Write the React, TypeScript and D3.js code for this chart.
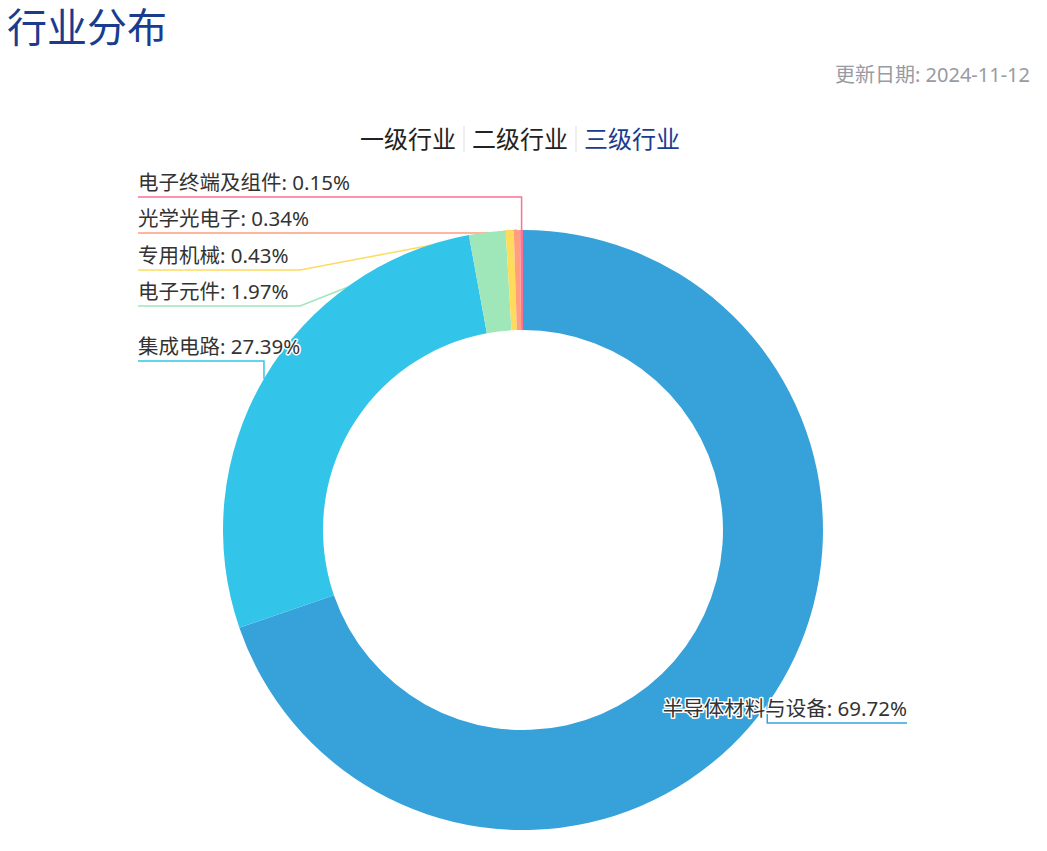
import React from "react";
import * as d3 from "d3";

const categories = ["半导体材料与设备", "集成电路", "电子元件", "专用机械", "光学光电子", "电子终端及组件"];
const values = [69.72, 27.39, 1.97, 0.43, 0.34, 0.15];
const colors = ["#37a2da", "#32c5e9", "#9fe6b8", "#ffdb5c", "#ff9f7f", "#fb7293"];
const tabs = ["一级行业", "二级行业", "三级行业"];
const activeTab = 2;
const title = "行业分布";
const updateDate = "更新日期: 2024-11-12";

const W = 1047;
const H = 851;
const FONT = "'Noto Sans', 'Noto Sans CJK SC', sans-serif";

// label layout: side, label baseline line y, elbow rule
const LABEL_LAYOUT: Record<string, { side: "left" | "right"; lineY: number; elbowX?: number }> = {
  "半导体材料与设备": { side: "right", lineY: 723 },
  "集成电路": { side: "left", lineY: 361 },
  "电子元件": { side: "left", lineY: 306, elbowX: 300 },
  "专用机械": { side: "left", lineY: 270, elbowX: 300 },
  "光学光电子": { side: "left", lineY: 233, elbowX: 500 },
  "电子终端及组件": { side: "left", lineY: 197 },
};

export default function App() {
  const cx = 523;
  const cy = 530;
  const outerR = 300;
  const innerR = 200;
  const leftEdge = 138;
  const rightEdge = 907;

  const data = categories.map((c, i) => ({ name: c, value: values[i], color: colors[i] }));
  const pie = d3.pie<any>().sort(null).value((d: any) => d.value).startAngle(0).endAngle(Math.PI * 2);
  const arcs = pie(data);
  const arcGen = d3.arc<any>().innerRadius(innerR).outerRadius(outerR);

  const labels = arcs.map((a) => {
    const mid = (a.startAngle + a.endAngle) / 2;
    const ax = cx + outerR * Math.sin(mid);
    const ay = cy - outerR * Math.cos(mid);
    const lay = LABEL_LAYOUT[a.data.name];
    const ex = lay.elbowX !== undefined ? lay.elbowX : ax;
    const endX = lay.side === "left" ? leftEdge : rightEdge;
    const path = `M${ax},${ay}L${ex},${lay.lineY}L${endX},${lay.lineY}`;
    return { a, ax, ay, lay, path, endX };
  });

  // tabs layout
  const tabFont = 24;
  const tabW = 94;
  const tabGap = 18;
  const tabStart = 361;

  return (
    <svg width={W} height={H} style={{ position: "absolute", left: 0, top: 0, background: "#fff" }} fontFamily={FONT}>
      <text x={7} y={42} fontSize={40} fill="#1a3c8f">{title}</text>
      <text x={1030} y={82} fontSize={20} fill="#999aa3" textAnchor="end">{updateDate}</text>

      {tabs.map((t, i) => {
        const x = tabStart + i * (tabW + tabGap);
        return (
          <g key={t}>
            <text x={x + tabW / 2} y={148} fontSize={tabFont} textAnchor="middle" fill={i === activeTab ? "#1a3c8f" : "#222"}>{t}</text>
            {i > 0 && <line x1={x - tabGap / 2} x2={x - tabGap / 2} y1={126} y2={152} stroke="#dddddd" strokeWidth={1} />}
          </g>
        );
      })}

      <g>
        {labels.map((l) => (
          <path key={"l" + l.a.data.name} d={l.path} fill="none" stroke={l.a.data.color} strokeWidth={1.5} />
        ))}
      </g>
      <g transform={`translate(${cx},${cy})`}>
        {arcs.map((a) => (
          <path key={a.data.name} d={arcGen(a) as string} fill={a.data.color} />
        ))}
      </g>
      <g>
        {labels.map((l) => (
          <text
            key={"t" + l.a.data.name}
            x={l.endX}
            y={l.lay.lineY - 7}
            fontSize={20.5}
            fill="#333"
            stroke="#fff"
            strokeWidth={3}
            paintOrder="stroke"
            strokeLinejoin="round"
            textAnchor={l.lay.side === "left" ? "start" : "end"}
          >
            {`${l.a.data.name}: ${l.a.data.value.toFixed(2)}%`}
          </text>
        ))}
      </g>
    </svg>
  );
}
